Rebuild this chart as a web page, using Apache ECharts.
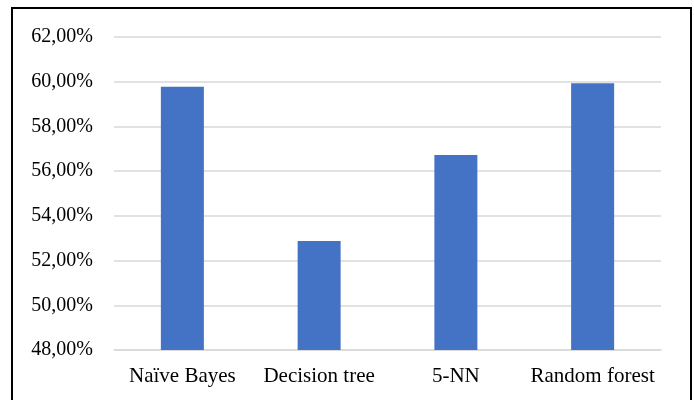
<!DOCTYPE html>
<html>
<head>
<meta charset="utf-8">
<script src="https://cdn.jsdelivr.net/npm/echarts@6/dist/echarts.min.js"></script>
<style>
html,body{margin:0;padding:0;background:#fff;overflow:hidden;}
#frame{position:absolute;left:11px;top:7px;width:677px;height:430px;border:2px solid #000;box-sizing:content-box;}
#chart{position:absolute;left:0;top:0;width:694px;height:400px;}
</style>
</head>
<body>
<div id="frame"></div>
<div id="chart"></div>
<script>
const categories = ['Naïve Bayes', 'Decision tree', '5-NN', 'Random forest'];
const accuracy = [59.78, 52.87, 56.72, 59.93];
const yMin = 48, yMax = 62, yStep = 2;

const chart = echarts.init(document.getElementById('chart'));
chart.setOption({
  animation: false,
  backgroundColor: 'transparent',
  grid: { left: 114, right: 33, top: 37, bottom: 50, containLabel: false },
  xAxis: {
    type: 'category',
    data: categories,
    axisLine: { show: true, lineStyle: { color: '#d9d9d9', width: 1.5 } },
    axisTick: { show: false },
    axisLabel: { interval: 0, color: '#000', fontFamily: 'Liberation Serif', fontSize: 21, margin: 16 }
  },
  yAxis: {
    type: 'value',
    min: yMin, max: yMax, interval: yStep,
    axisLine: { show: false },
    axisTick: { show: false },
    splitLine: { lineStyle: { color: '#d9d9d9', width: 1.5 } },
    axisLabel: {
      color: '#000', fontFamily: 'Liberation Serif', fontSize: 20, margin: 21,
      formatter: v => v.toFixed(2).replace('.', ',') + '%'
    }
  },
  series: [{
    type: 'bar',
    data: accuracy,
    barWidth: 43,
    itemStyle: { color: '#4472C4' }
  }]
});
</script>
</body>
</html>
